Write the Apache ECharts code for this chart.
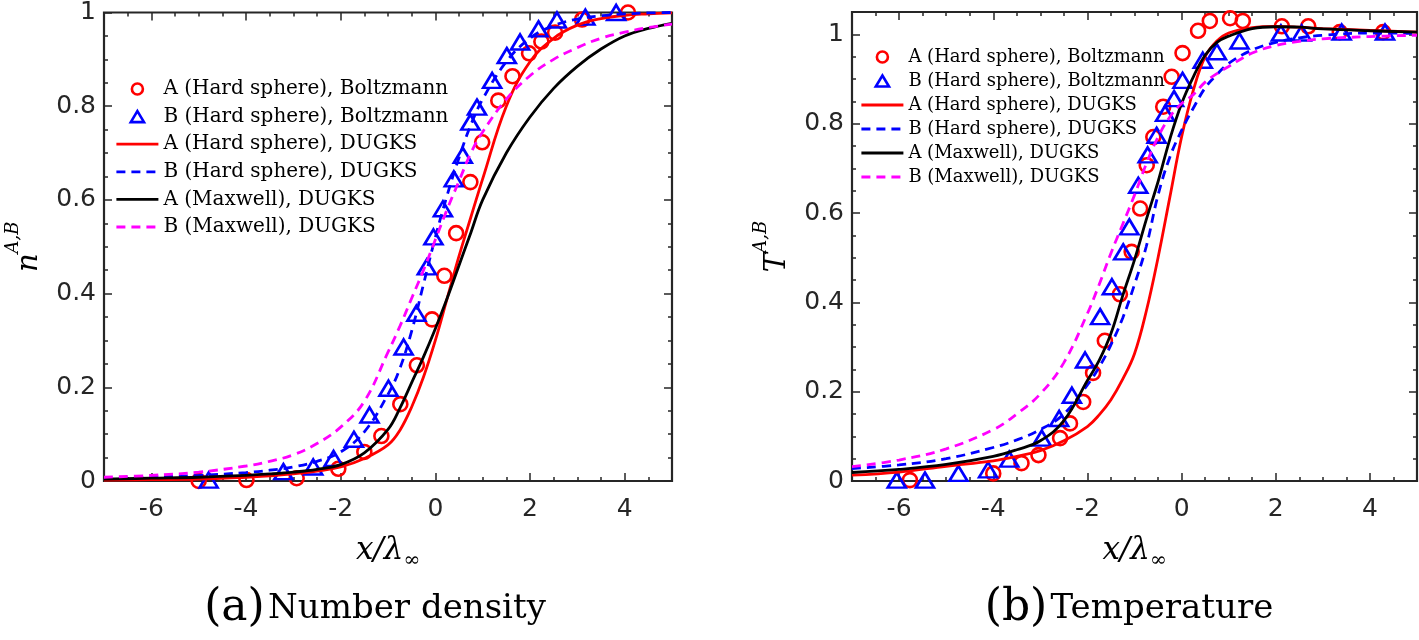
<!DOCTYPE html>
<html><head><meta charset="utf-8">
<script src="https://cdn.jsdelivr.net/npm/echarts@6.0.0/dist/echarts.min.js"></script>
<style>html,body{margin:0;padding:0;background:#fff}#c{width:1419px;height:640px}</style>
</head><body><div id="c"></div>
<script>
// ---------- tick labels ----------
const xTickValues = [-6, -4, -2, 0, 2, 4];
const yTickValues = [0, 0.2, 0.4, 0.6, 0.8, 1];

// ---------- legend / series names ----------
const seriesNames = [
  'A (Hard sphere), Boltzmann',
  'B (Hard sphere), Boltzmann',
  'A (Hard sphere), DUGKS',
  'B (Hard sphere), DUGKS',
  'A (Maxwell), DUGKS',
  'B (Maxwell), DUGKS'
];

// ---------- (a) number density ----------
const nBoltzA_x = [-5.0, -3.99, -2.93, -2.05, -1.5, -1.14, -0.74, -0.39, -0.07, 0.19, 0.44, 0.74, 0.99, 1.33, 1.63, 1.98, 2.24, 2.53, 3.1, 4.07];
const nBoltzA_y = [0.0, 0.002, 0.006, 0.026, 0.062, 0.096, 0.164, 0.247, 0.345, 0.438, 0.529, 0.638, 0.723, 0.812, 0.864, 0.913, 0.938, 0.957, 0.985, 1.0];
const nBoltzB_x = [-4.79, -3.21, -2.58, -2.15, -1.72, -1.39, -0.99, -0.67, -0.40, -0.18, -0.04, 0.16, 0.39, 0.58, 0.74, 0.88, 1.20, 1.51, 1.79, 2.18, 2.57, 3.17, 3.82];
const nBoltzB_y = [0.002, 0.02, 0.03, 0.048, 0.089, 0.141, 0.198, 0.286, 0.358, 0.457, 0.521, 0.581, 0.645, 0.695, 0.766, 0.798, 0.855, 0.908, 0.937, 0.965, 0.984, 0.99, 1.0];
const nLineX   = [-7, -6, -5, -4, -3.5, -3, -2.5, -2, -1.5, -1, -0.75, -0.5, -0.25, 0, 0.25, 0.5, 0.75, 1, 1.5, 2, 2.5, 3, 3.5, 4, 4.5, 5];
const nA_HS    = [0.002, 0.003, 0.004, 0.008, 0.011, 0.015, 0.021, 0.030, 0.048, 0.077, 0.108, 0.158, 0.222, 0.30, 0.39, 0.48, 0.563, 0.645, 0.80, 0.895, 0.945, 0.973, 0.987, 0.994, 0.997, 0.999];
const nB_HS    = [0.005, 0.008, 0.012, 0.018, 0.023, 0.030, 0.042, 0.062, 0.105, 0.185, 0.24, 0.32, 0.42, 0.52, 0.61, 0.69, 0.76, 0.815, 0.895, 0.945, 0.972, 0.986, 0.993, 0.997, 0.999, 1.0];
const nA_Max   = [0.004, 0.006, 0.008, 0.012, 0.015, 0.019, 0.025, 0.035, 0.06, 0.11, 0.155, 0.21, 0.265, 0.325, 0.39, 0.46, 0.53, 0.60, 0.70, 0.777, 0.838, 0.885, 0.922, 0.95, 0.966, 0.977];
const nB_Max   = [0.008, 0.012, 0.019, 0.032, 0.042, 0.056, 0.08, 0.115, 0.17, 0.275, 0.33, 0.39, 0.45, 0.515, 0.58, 0.64, 0.70, 0.745, 0.815, 0.865, 0.90, 0.925, 0.945, 0.958, 0.968, 0.975];

// ---------- (b) temperature ----------
const TBoltzA_x = [-5.77, -4.0, -3.40, -3.04, -2.58, -2.37, -2.09, -1.88, -1.63, -1.31, -1.06, -0.88, -0.74, -0.6, -0.39, -0.21, 0.02, 0.35, 0.6, 1.03, 1.3, 2.13, 2.69, 3.36, 4.28];
const TBoltzA_y = [0.002, 0.017, 0.04, 0.058, 0.096, 0.129, 0.177, 0.242, 0.314, 0.418, 0.513, 0.61, 0.707, 0.77, 0.838, 0.905, 0.958, 1.008, 1.03, 1.036, 1.03, 1.018, 1.018, 1.005, 1.005];
const TBoltzB_x = [-6.05, -5.45, -4.74, -4.11, -3.66, -2.97, -2.60, -2.33, -2.05, -1.73, -1.48, -1.24, -1.11, -0.92, -0.72, -0.53, -0.35, -0.16, 0.02, 0.45, 0.75, 1.23, 2.11, 2.55, 3.4, 4.32];
const TBoltzB_y = [0.002, 0.002, 0.017, 0.025, 0.049, 0.096, 0.14, 0.192, 0.271, 0.368, 0.435, 0.513, 0.569, 0.662, 0.73, 0.774, 0.823, 0.856, 0.897, 0.942, 0.961, 0.985, 1.003, 1.003, 1.005, 1.005];
const TLineX  = [-7, -6, -5, -4, -3.5, -3, -2.5, -2, -1.75, -1.5, -1.25, -1, -0.75, -0.5, -0.25, 0, 0.25, 0.5, 0.75, 1, 1.5, 2, 2.5, 3, 4, 5];
const TA_HS   = [0.013, 0.02, 0.033, 0.045, 0.055, 0.068, 0.09, 0.122, 0.148, 0.182, 0.228, 0.285, 0.38, 0.50, 0.635, 0.77, 0.875, 0.95, 0.985, 1.003, 1.015, 1.018, 1.016, 1.013, 1.009, 1.005];
const TB_HS   = [0.028, 0.036, 0.05, 0.075, 0.092, 0.115, 0.15, 0.215, 0.255, 0.305, 0.365, 0.44, 0.525, 0.64, 0.725, 0.785, 0.835, 0.88, 0.91, 0.935, 0.965, 0.982, 0.992, 0.998, 1.003, 1.002];
const TA_Max  = [0.019, 0.026, 0.037, 0.055, 0.07, 0.09, 0.135, 0.225, 0.27, 0.33, 0.415, 0.495, 0.585, 0.67, 0.765, 0.845, 0.905, 0.953, 0.982, 0.996, 1.013, 1.017, 1.016, 1.012, 1.008, 1.005];
const TB_Max  = [0.032, 0.047, 0.072, 0.115, 0.15, 0.195, 0.265, 0.375, 0.44, 0.51, 0.575, 0.64, 0.71, 0.77, 0.815, 0.845, 0.865, 0.893, 0.912, 0.928, 0.958, 0.975, 0.984, 0.99, 0.995, 0.998];

// ---------- helpers ----------
const zip = (xs, ys) => xs.map((x, i) => [x, ys[i]]);
const AX = '#262626';
const SANS = 'DejaVu Sans';
const SERIF = 'DejaVu Serif';
const RED = '#ff0000', BLUE = '#0000ff', BLACK = '#000000', MAG = '#ff00ff';
const DASH = [9, 6];
const LW = 2.8;

const grids = [
  { left: 104, top: 12, width: 568, height: 469 },
  { left: 852, top: 12, width: 565, height: 469 }
];
const yMaxes = [1, 1.05];
const yNames = ['n', 'T'];

const tickLine = { color: AX, width: 1.5 };
const xAxes = [], yAxes = [];
grids.forEach((g, gi) => {
  const baseX = () => ({ type: 'value', gridIndex: gi, min: -7, max: 5, splitLine: { show: false }, axisLine: { show: false, onZero: false } });
  xAxes.push(Object.assign(baseX(), {
    position: 'bottom',
    axisTick: { inside: true, length: 8, customValues: xTickValues, lineStyle: tickLine },
    axisLabel: { customValues: xTickValues, color: AX, fontSize: 25, fontFamily: SANS, margin: 16 },
    name: '{v|x/λ}{s|∞}', nameLocation: 'middle', nameGap: 50,
    nameTextStyle: { rich: {
      v: { fontFamily: SERIF, fontStyle: 'italic', fontSize: 31, color: '#000', lineHeight: 40, verticalAlign: 'middle' },
      s: { fontFamily: SERIF, fontSize: 20, color: '#000', lineHeight: 40, verticalAlign: 'bottom' }
    } }
  }));
  xAxes.push(Object.assign(baseX(), { position: 'bottom', interval: 0.5, axisLabel: { show: false }, axisTick: { inside: true, length: 4, lineStyle: tickLine } }));
  xAxes.push(Object.assign(baseX(), { position: 'top', axisLabel: { show: false }, axisTick: { inside: true, length: 8, customValues: xTickValues, lineStyle: tickLine } }));
  xAxes.push(Object.assign(baseX(), { position: 'top', interval: 0.5, axisLabel: { show: false }, axisTick: { inside: true, length: 4, lineStyle: tickLine } }));

  const baseY = () => ({ type: 'value', gridIndex: gi, min: 0, max: yMaxes[gi], splitLine: { show: false }, axisLine: { show: false, onZero: false } });
  yAxes.push(Object.assign(baseY(), {
    position: 'left',
    axisTick: { inside: true, length: 8, customValues: yTickValues, lineStyle: tickLine },
    axisLabel: { customValues: yTickValues, color: AX, fontSize: 25, fontFamily: SANS, margin: 8 },
    name: '{v|' + yNames[gi] + '}{s|A,B}', nameLocation: 'middle', nameRotate: 90, nameGap: 60,
    nameTextStyle: { rich: {
      v: { fontFamily: SERIF, fontStyle: 'italic', fontSize: 29, color: '#000', lineHeight: 40, verticalAlign: 'bottom' },
      s: { fontFamily: SERIF, fontStyle: 'italic', fontSize: 18, color: '#000', lineHeight: 40, verticalAlign: 'top' }
    } }
  }));
  yAxes.push(Object.assign(baseY(), { position: 'left', interval: 0.05, axisLabel: { show: false }, axisTick: { inside: true, length: 4, lineStyle: tickLine } }));
  yAxes.push(Object.assign(baseY(), { position: 'right', axisLabel: { show: false }, axisTick: { inside: true, length: 8, customValues: yTickValues, lineStyle: tickLine } }));
  yAxes.push(Object.assign(baseY(), { position: 'right', interval: 0.05, axisLabel: { show: false }, axisTick: { inside: true, length: 4, lineStyle: tickLine } }));
});

function scatterSeries(name, gi, xs, ys, symbol, size, color) {
  return { type: 'scatter', name, xAxisIndex: gi * 4, yAxisIndex: gi * 4, data: zip(xs, ys), symbol, symbolSize: size,
    color, itemStyle: { color: 'rgba(0,0,0,0)', borderColor: color, borderWidth: 2.6, opacity: 1 }, clip: false, silent: true };
}
function lineSeries(name, gi, xs, ys, color, dashed) {
  return { type: 'line', name, xAxisIndex: gi * 4, yAxisIndex: gi * 4, data: zip(xs, ys), symbol: 'none', showSymbol: false, smooth: 0.4,
    color, lineStyle: { color, width: LW, type: dashed ? DASH : 'solid' }, silent: true };
}

const series = [
  scatterSeries(seriesNames[0], 0, nBoltzA_x, nBoltzA_y, 'circle', 14, RED),
  scatterSeries(seriesNames[1], 0, nBoltzB_x, nBoltzB_y, 'triangle', [18, 15], BLUE),
  lineSeries(seriesNames[2], 0, nLineX, nA_HS, RED, false),
  lineSeries(seriesNames[3], 0, nLineX, nB_HS, BLUE, true),
  lineSeries(seriesNames[4], 0, nLineX, nA_Max, BLACK, false),
  lineSeries(seriesNames[5], 0, nLineX, nB_Max, MAG, true),
  scatterSeries(seriesNames[0], 1, TBoltzA_x, TBoltzA_y, 'circle', 14, RED),
  scatterSeries(seriesNames[1], 1, TBoltzB_x, TBoltzB_y, 'triangle', [18, 15], BLUE),
  lineSeries(seriesNames[2], 1, TLineX, TA_HS, RED, false),
  lineSeries(seriesNames[3], 1, TLineX, TB_HS, BLUE, true),
  lineSeries(seriesNames[4], 1, TLineX, TA_Max, BLACK, false),
  lineSeries(seriesNames[5], 1, TLineX, TB_Max, MAG, true)
];

const NOFILL = { color: 'rgba(0,0,0,0)', borderColor: 'rgba(0,0,0,0)', borderWidth: 0, opacity: 0 };
function legendData() {
  return [
    { name: seriesNames[0], icon: 'circle', itemStyle: { color: 'rgba(0,0,0,0)', borderColor: RED, borderWidth: 2.6, opacity: 1 } },
    { name: seriesNames[1], icon: 'path://M6,0 L12,10 L0,10 Z', itemStyle: { color: 'rgba(0,0,0,0)', borderColor: BLUE, borderWidth: 2.6, opacity: 1 } },
    { name: seriesNames[2], itemStyle: NOFILL, lineStyle: { color: RED, width: LW, type: 'solid' } },
    { name: seriesNames[3], itemStyle: NOFILL, lineStyle: { color: BLUE, width: LW, type: DASH } },
    { name: seriesNames[4], itemStyle: NOFILL, lineStyle: { color: BLACK, width: LW, type: 'solid' } },
    { name: seriesNames[5], itemStyle: NOFILL, lineStyle: { color: MAG, width: LW, type: DASH } }
  ];
}

const legends = [
  { orient: 'vertical', left: 115, top: 78, padding: 0, itemWidth: 42, itemHeight: 11, itemGap: 5.6, selectedMode: false, symbolKeepAspect: true,
    data: legendData(), textStyle: { fontFamily: SERIF, fontSize: 20, color: '#000', lineHeight: 22 } },
  { orient: 'vertical', left: 860, top: 47, padding: 0, itemWidth: 42, itemHeight: 11, itemGap: 4, selectedMode: false, symbolKeepAspect: true,
    data: legendData(), textStyle: { fontFamily: SERIF, fontSize: 18, color: '#000', lineHeight: 20 } }
];

const captions = [
  { x: 375, y: 609, text: '{p|(a)} {t|Number density}' },
  { x: 1129, y: 609, text: '{p|(b)} {t|Temperature}' }
];

const chart = echarts.init(document.getElementById('c'), null, { renderer: 'canvas', width: 1419, height: 640 });
chart.setOption({
  animation: false,
  backgroundColor: '#ffffff',
  grid: grids.map(g => Object.assign({ show: true, borderColor: AX, borderWidth: 2.2, backgroundColor: '#fff', containLabel: false }, g)),
  xAxis: xAxes,
  yAxis: yAxes,
  legend: legends,
  series,
  graphic: captions.map(c => ({
    type: 'text', x: c.x, y: c.y, silent: true,
    style: { text: c.text, align: 'center', verticalAlign: 'middle', fill: '#000',
      rich: { p: { fontFamily: SERIF, fontSize: 44, fill: '#000', verticalAlign: 'middle', lineHeight: 52 },
              t: { fontFamily: SERIF, fontSize: 34, fill: '#000', verticalAlign: 'middle', lineHeight: 52 } } }
  }))
});
</script></body></html>
